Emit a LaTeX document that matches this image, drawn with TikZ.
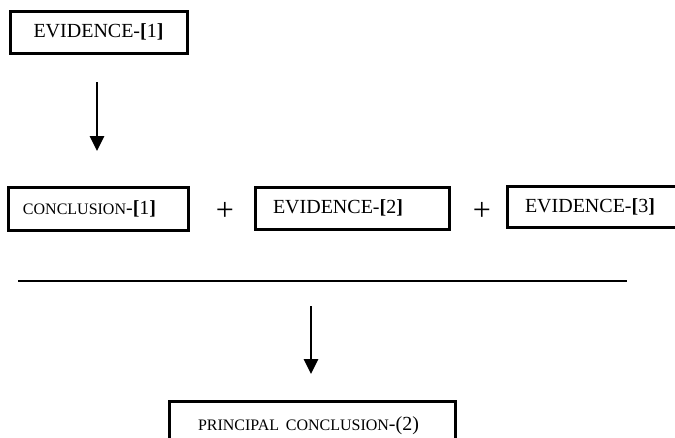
\documentclass[tikz,border=0pt]{standalone}
\usepackage{fontspec}
\setmainfont{Liberation Serif}
\usetikzlibrary{arrows.meta}
\newcommand{\bigtxt}{\fontsize{20}{22}\selectfont}
\newcommand{\smtxt}{\fontsize{16}{18}\selectfont}
\tikzset{
  box/.style={draw, line width=3pt, inner ysep=0pt, font=\bigtxt},
  arr/.style={line width=2.6pt, -{Triangle[width=14pt,length=15pt]}},
  plus/.style={font=\fontsize{32}{32}\selectfont, inner sep=0pt}
}
\begin{document}
\begin{tikzpicture}[x=1pt,y=-1pt]
\clip (0,0) rectangle (675,437);
\fill[white] (0,0) rectangle (675,437);
\node[box, minimum width=177pt, minimum height=42pt, inner xsep=0pt] (ev1) at (98.5,32) {EVIDENCE-\textbf{[}1\textbf{]}};
\node[box, minimum height=43pt, inner xsep=15pt, text width=150pt, align=left] (c1) at (98,208.5) {{\smtxt CONCLUSION}-\textbf{[}1\textbf{]}};
\node[box, minimum height=42pt, inner xsep=18pt, text width=158pt, align=left] (ev2) at (352,208) {EVIDENCE-\textbf{[}2\textbf{]}};
\node[box, minimum height=41pt, inner xsep=18pt, text width=135pt, align=left] (ev3) at (592.5,206.5) {EVIDENCE-\textbf{[}3\textbf{]}};
\node[box, minimum height=50pt, inner xsep=29pt, text width=228pt, align=left] (pc) at (312,426) {{\smtxt PRINCIPAL CONCLUSION}-(2)};
\node[plus] (p1) at (225,211) {+};
\node[plus] (p2) at (482,211) {+};
\coordinate (a1s) at (97,82);
\coordinate (a1e) at (97,151);
\coordinate (a2s) at (311,306);
\coordinate (a2e) at (311,374);
\coordinate (ls) at (18,281);
\coordinate (le) at (627,281);
\draw[arr] (a1s) -- (a1e);
\draw[arr] (a2s) -- (a2e);
\draw[line width=2pt] (ls) -- (le);
\end{tikzpicture}
\end{document}
